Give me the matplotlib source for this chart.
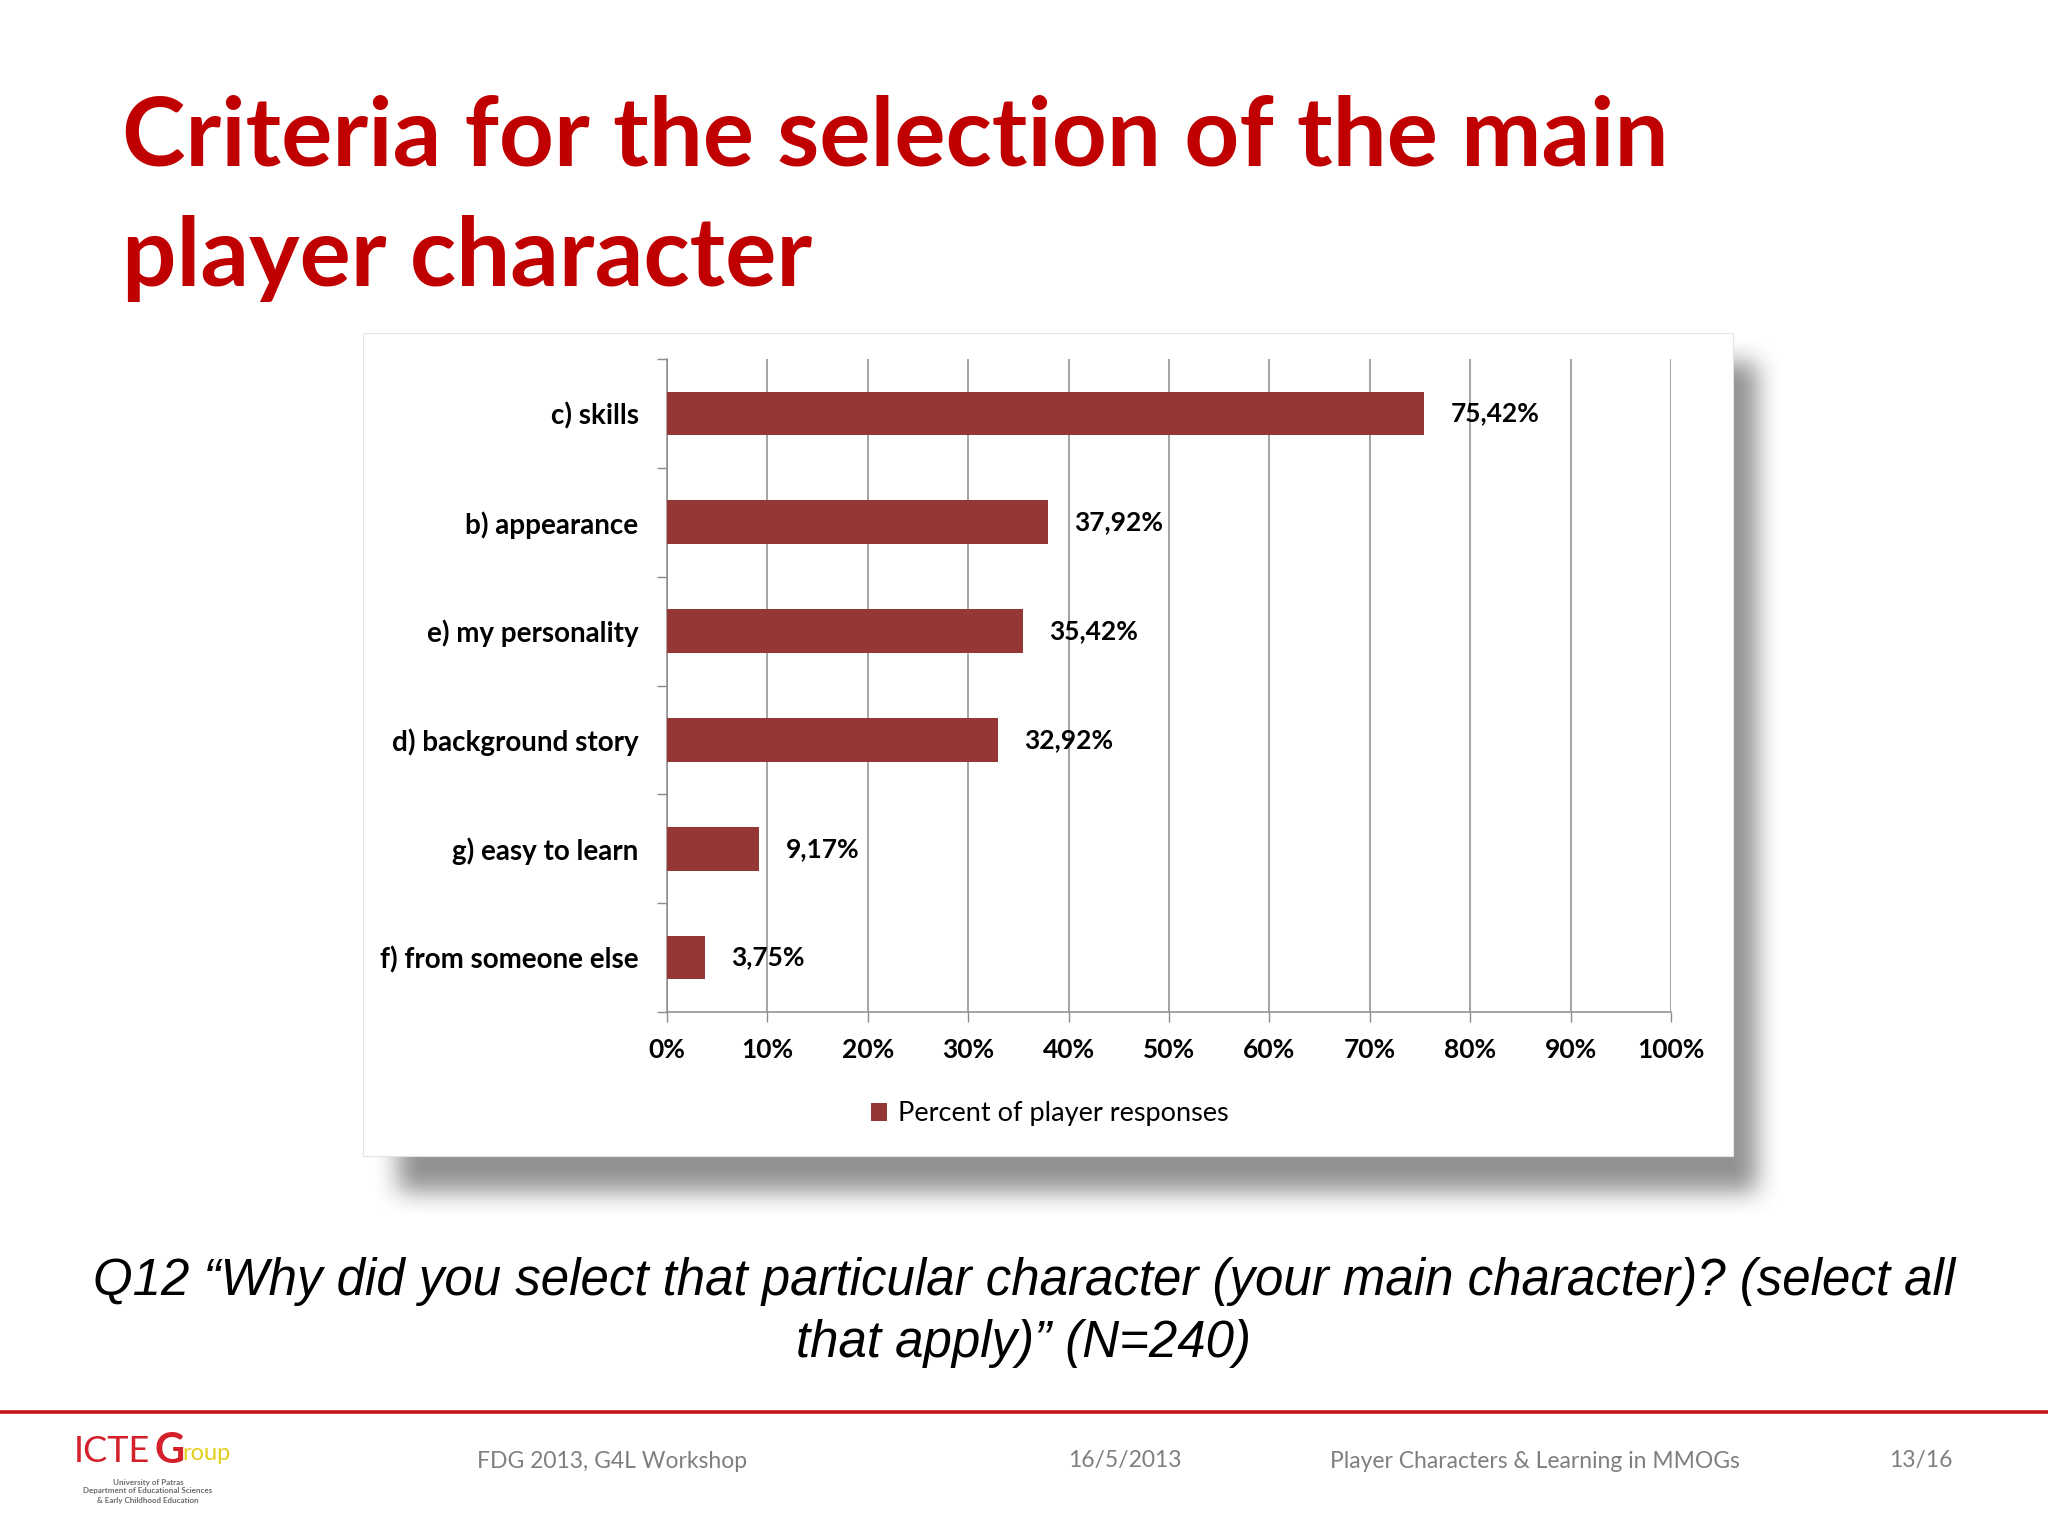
import numpy as np
import matplotlib.pyplot as plt
from matplotlib.patches import Rectangle

# data
categories = ["c) skills", "b) appearance", "e) my personality",
              "d) background story", "g) easy to learn", "f) from someone else"]
values = [75.42, 37.92, 35.42, 32.92, 9.17, 3.75]
xticks = list(range(0, 101, 10))
xtick_labels = [f"{t}%" for t in xticks]
series_name = "Percent of player responses"

title_lines = ["Criteria for the selection of the main", "player character"]
question_lines = ["Q12 \u201cWhy did you select that particular character (your main character)? (select all",
                  "that apply)\u201d (N=240)"]
footer = ["FDG 2013, G4L Workshop", "16/5/2013", "Player Characters & Learning in MMOGs", "13/16"]

W, H = 2048, 1536
BAR = "#953735"
GRID = "#8c8c8c"
RED = "#C00000"


def fx(x):
    return x / W


def fy(y):
    # y counted from the top of the slide, in pixels
    return 1 - y / H


def box_blur(a, n, axis):
    c = np.cumsum(np.pad(a, [(n, n) if i == axis else (0, 0) for i in range(2)]), axis=axis)
    c = np.insert(c, 0, 0, axis=axis)
    hi = np.take(c, np.arange(2 * n + 1, c.shape[axis]), axis=axis)
    lo = np.take(c, np.arange(0, c.shape[axis] - 2 * n - 1), axis=axis)
    return (hi - lo) / (2 * n + 1)


fig = plt.figure(figsize=(W / 100, H / 100), dpi=100)
fig.patch.set_facecolor("white")

# title
for i, line in enumerate(title_lines):
    fig.text(fx(122), fy(166 + i * 120), line, color=RED, fontsize=69,
             fontweight="bold", family="Lato", va="baseline", ha="left")

# soft drop shadow behind the chart panel
mask = np.zeros((H, W))
mask[362:1192, 398:1757] = 1.0
for _ in range(2):
    mask = box_blur(mask, 13, 0)
    mask = box_blur(mask, 13, 1)
shadow = np.zeros((H, W, 4))
shadow[..., :3] = 0.18
shadow[..., 3] = mask * 0.52
fig.figimage(shadow, xo=0, yo=0, origin="upper", zorder=0)

fig.patches.append(Rectangle((fx(363), fy(1156)), fx(1733 - 363), (1156 - 333) / H,
                             transform=fig.transFigure, facecolor="white",
                             edgecolor="#e4e4e4", linewidth=0.8, zorder=1))

# chart
ax = fig.add_axes([fx(667), fy(1012), fx(1671 - 667), (1012 - 359) / H], zorder=2)
ax.set_facecolor("none")
ypos = np.arange(len(categories))
ax.barh(ypos, values, height=0.4, color=BAR, label=series_name, zorder=3)
ax.set_xlim(0, 100)
ax.set_ylim(len(categories) - 0.5, -0.5)

ax.set_xticks(xticks)
ax.set_xticklabels(xtick_labels, family="Lato", fontsize=19, fontweight="bold")
ax.tick_params(axis="x", direction="out", length=7, width=1, color=GRID, pad=12)
ax.grid(axis="x", color=GRID, linewidth=1.1, zorder=1)

ax.set_yticks(np.arange(-0.5, len(categories), 1))
ax.set_yticklabels([])
ax.tick_params(axis="y", which="major", direction="out", length=7, width=1, color=GRID)
ax.set_yticks(ypos, minor=True)
ax.set_yticklabels(categories, minor=True, family="Lato", fontsize=20, fontweight="bold")
ax.tick_params(axis="y", which="minor", length=0, pad=20.5)

for s in ["top", "right"]:
    ax.spines[s].set_visible(False)
for s in ["left", "bottom"]:
    ax.spines[s].set_color(GRID)
    ax.spines[s].set_linewidth(1.1)

for y, v in zip(ypos, values):
    ax.annotate(f"{v:.2f}".replace(".", ",") + "%", (v, y), xytext=(19, 0),
                textcoords="offset points", va="center", ha="left",
                family="Lato", fontsize=19, fontweight="bold", zorder=4)

fig.legend(loc="center", bbox_to_anchor=(fx(1050), fy(1114)), frameon=False,
           handlelength=0.6, handleheight=0.6, handletextpad=0.4,
           prop={"family": "Lato", "size": 19.5})

# question
for i, line in enumerate(question_lines):
    fig.text(0.5, fy(1282 + i * 62), line, ha="center", va="center",
             family="Liberation Sans", style="italic", fontsize=36.7, color="black")

# footer rule
fig.add_artist(plt.Line2D([0, 1], [fy(1412), fy(1412)], color="#C4161C",
                          linewidth=2.6, transform=fig.transFigure))

fx_pos = [477, 1068, 1330, 1889]
for t, x in zip(footer, fx_pos):
    fig.text(fx(x), fy(1461), t, ha="left", va="center", family="Lato",
             fontsize=16.5, color="#7f7f7f")

# logo approximation
fig.text(fx(74), fy(1452), "ICTE", color="#d4202a", fontsize=26, family="Lato",
         va="center", ha="left")
fig.text(fx(154), fy(1451), "G", color="#d4202a", fontsize=30, family="Lato",
         fontweight="bold", va="center", ha="left")
fig.text(fx(182), fy(1454), "roup", color="#e3cf1c", fontsize=17, family="Lato",
         va="center", ha="left")
for i, t in enumerate(["University of Patras", "Department of Educational Sciences",
                       "& Early Childhood Education"]):
    fig.text(fx(148), fy(1482 + i * 9), t, color="#6b6b6b", fontsize=5.8,
             family="Lato", fontweight="bold", ha="center", va="center")

fig.savefig("out.png", dpi=100)
